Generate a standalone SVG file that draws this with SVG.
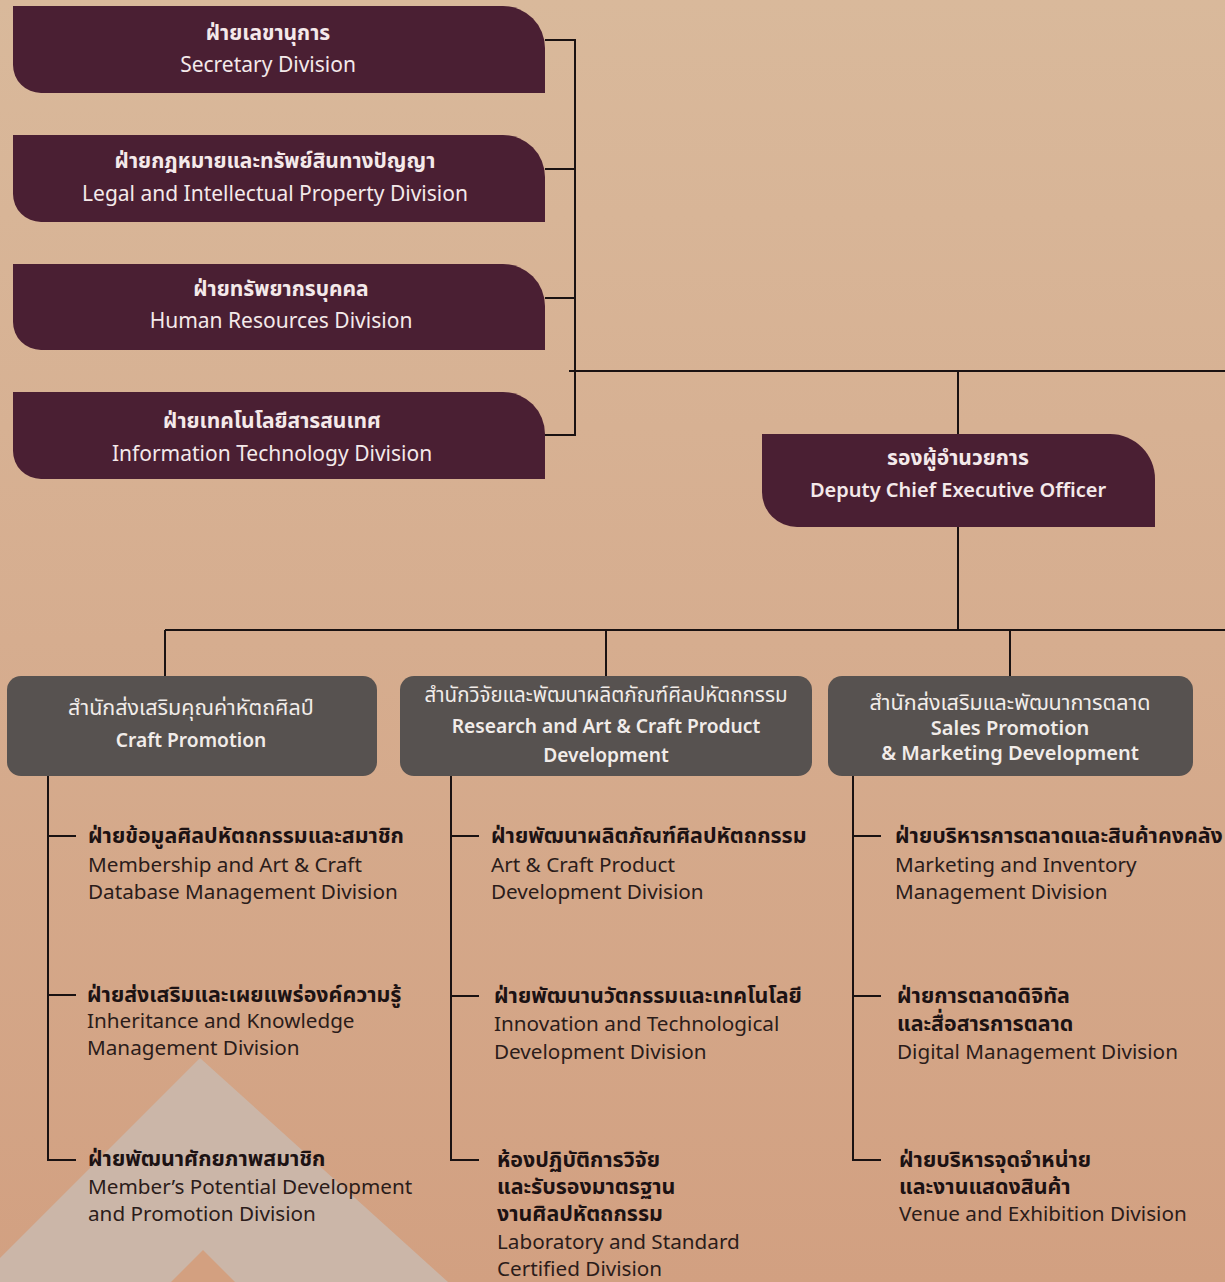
<svg xmlns="http://www.w3.org/2000/svg" width="1225" height="1282" viewBox="0 0 1225 1282">
<defs>
<linearGradient id="bg" x1="0" y1="0" x2="0" y2="1">
<stop offset="0" stop-color="#d9b99b"/>
<stop offset="0.5" stop-color="#d6ad8f"/>
<stop offset="1" stop-color="#d2a081"/>
</linearGradient>
<style>
text{font-family:'Noto Sans','Noto Sans Thai','Liberation Sans',sans-serif;}
.top{fill:#4a1f33;}
.gray{fill:#575250;}
.wt{fill:#f4e9ea;font-size:21px;text-anchor:middle;}
.wth{fill:#f4e9ea;font-size:21px;font-weight:bold;text-anchor:middle;}
.gt{fill:#f1ece9;font-size:21.5px;text-anchor:middle;}
.gtb{fill:#f1ece9;font-size:19.2px;font-weight:600;text-anchor:middle;}
.th{fill:#1c1213;font-size:21.4px;font-weight:bold;}
.en{fill:#2b1c1a;font-size:20.7px;}
.ln{stroke:#1a1212;stroke-width:2;fill:none;}
</style>
</defs>
<rect width="1225" height="1282" fill="url(#bg)"/>
<g id="decor">
<polygon points="200,1058 -10,1268 -10,1282 448,1282" fill="#cbb6a8"/>
<polygon points="203,1250 171,1282 235,1282" fill="#d3a080"/>
</g>
<g id="connectors" class="ln">
<path d="M545,40 H575 V435 H545"/>
<path d="M545,169 H575"/>
<path d="M545,298 H575"/>
<path d="M569,371 H1225"/>
<path d="M958,371 V434"/>
<path d="M958,527 V630"/>
<path d="M165,630 H1225"/>
<path d="M165,630 V676"/>
<path d="M606,630 V676"/>
<path d="M1010,630 V676"/>
<path d="M48,776 V1160 H76"/>
<path d="M48,836 H76"/>
<path d="M48,995 H76"/>
<path d="M451,776 V1160 H479"/>
<path d="M451,836 H479"/>
<path d="M451,996 H479"/>
<path d="M853,776 V1160 H881"/>
<path d="M853,836 H881"/>
<path d="M853,996 H881"/>
</g>
<g id="secretary">
<path class="top" d="M13,6 H503 A42,42 0 0 1 545,48 V93 H41 A28,28 0 0 1 13,65 Z"/>
<text class="wth" x="268" y="40">ฝ่ายเลขานุการ</text>
<text class="wt" x="268" y="72">Secretary Division</text>
</g>
<g id="legal">
<path class="top" d="M13,135 H503 A42,42 0 0 1 545,177 V222 H41 A28,28 0 0 1 13,194 Z"/>
<text class="wth" x="275" y="168">ฝ่ายกฎหมายและทรัพย์สินทางปัญญา</text>
<text class="wt" x="275" y="201">Legal and Intellectual Property Division</text>
</g>
<g id="hr">
<path class="top" d="M13,264 H503 A42,42 0 0 1 545,306 V350 H41 A28,28 0 0 1 13,322 Z"/>
<text class="wth" x="281" y="296">ฝ่ายทรัพยากรบุคคล</text>
<text class="wt" x="281" y="328">Human Resources Division</text>
</g>
<g id="it">
<path class="top" d="M13,392 H503 A42,42 0 0 1 545,434 V479 H41 A28,28 0 0 1 13,451 Z"/>
<text class="wth" x="272" y="428">ฝ่ายเทคโนโลยีสารสนเทศ</text>
<text class="wt" x="272" y="461">Information Technology Division</text>
</g>
<g id="deputy">
<path class="top" d="M762,434 H1110 A45,45 0 0 1 1155,479 V527 H797 A35,35 0 0 1 762,492 Z"/>
<text class="wth" x="958" y="465">รองผู้อำนวยการ</text>
<text class="wth" x="958" y="497" style="font-weight:600;font-size:20px">Deputy Chief Executive Officer</text>
</g>
<g id="craft-promotion">
<rect class="gray" x="7" y="676" width="370" height="100" rx="14"/>
<text class="gt" x="191" y="715">สำนักส่งเสริมคุณค่าหัตถศิลป์</text>
<text class="gtb" x="191" y="747">Craft Promotion</text>
</g>
<g id="research">
<rect class="gray" x="400" y="676" width="412" height="100" rx="14"/>
<text class="gt" x="606" y="702" style="font-size:20.5px">สำนักวิจัยและพัฒนาผลิตภัณฑ์ศิลปหัตถกรรม</text>
<text class="gtb" x="606" y="733">Research and Art &amp; Craft Product</text>
<text class="gtb" x="606" y="762">Development</text>
</g>
<g id="sales">
<rect class="gray" x="828" y="676" width="365" height="100" rx="14"/>
<text class="gt" x="1010" y="710">สำนักส่งเสริมและพัฒนาการตลาด</text>
<text class="gtb" x="1010" y="735" style="font-size:20px">Sales Promotion</text>
<text class="gtb" x="1010" y="760" style="font-size:20px">&amp; Marketing Development</text>
</g>
<g id="membership">
<text class="th" x="88" y="843">ฝ่ายข้อมูลศิลปหัตถกรรมและสมาชิก</text>
<text class="en" x="88" y="872">Membership and Art &amp; Craft</text>
<text class="en" x="88" y="899">Database Management Division</text>
</g>
<g id="inheritance">
<text class="th" x="87" y="1002">ฝ่ายส่งเสริมและเผยแพร่องค์ความรู้</text>
<text class="en" x="87" y="1028">Inheritance and Knowledge</text>
<text class="en" x="87" y="1055">Management Division</text>
</g>
<g id="member-potential">
<text class="th" x="88" y="1166">ฝ่ายพัฒนาศักยภาพสมาชิก</text>
<text class="en" x="88" y="1194">Member’s Potential Development</text>
<text class="en" x="88" y="1221">and Promotion Division</text>
</g>
<g id="product-dev">
<text class="th" x="491" y="843">ฝ่ายพัฒนาผลิตภัณฑ์ศิลปหัตถกรรม</text>
<text class="en" x="491" y="872">Art &amp; Craft Product</text>
<text class="en" x="491" y="899">Development Division</text>
</g>
<g id="innovation">
<text class="th" x="494" y="1003">ฝ่ายพัฒนานวัตกรรมและเทคโนโลยี</text>
<text class="en" x="494" y="1031">Innovation and Technological</text>
<text class="en" x="494" y="1059">Development Division</text>
</g>
<g id="laboratory">
<text class="th" x="497" y="1167">ห้องปฏิบัติการวิจัย</text>
<text class="th" x="497" y="1194">และรับรองมาตรฐาน</text>
<text class="th" x="497" y="1221">งานศิลปหัตถกรรม</text>
<text class="en" x="497" y="1249">Laboratory and Standard</text>
<text class="en" x="497" y="1276">Certified Division</text>
</g>
<g id="marketing-inventory">
<text class="th" x="895" y="843">ฝ่ายบริหารการตลาดและสินค้าคงคลัง</text>
<text class="en" x="895" y="872">Marketing and Inventory</text>
<text class="en" x="895" y="899">Management Division</text>
</g>
<g id="digital">
<text class="th" x="897" y="1003">ฝ่ายการตลาดดิจิทัล</text>
<text class="th" x="897" y="1031">และสื่อสารการตลาด</text>
<text class="en" x="897" y="1059">Digital Management Division</text>
</g>
<g id="venue">
<text class="th" x="899" y="1167">ฝ่ายบริหารจุดจำหน่าย</text>
<text class="th" x="899" y="1194">และงานแสดงสินค้า</text>
<text class="en" x="899" y="1221">Venue and Exhibition Division</text>
</g>
</svg>
